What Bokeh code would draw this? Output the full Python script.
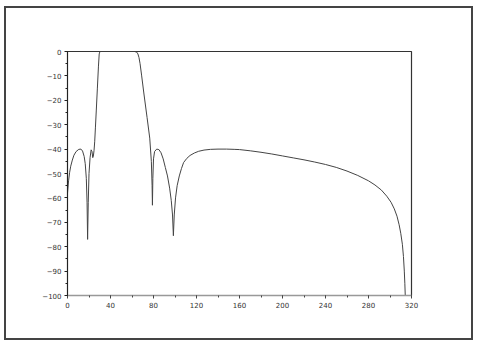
from bokeh.plotting import figure
from bokeh.models import Range1d, FixedTicker
from bokeh.embed import file_html
from bokeh.resources import INLINE

freq = [0, 1, 2, 3, 4.5, 6, 8, 10.5, 12.5, 14, 15.5, 16.5, 17.5, 18.2, 18.7, 19.3, 20, 21, 22,
        22.8, 23.5, 24, 24.7, 25.3, 26, 26.8, 27.8, 28.8, 29.5, 30.2,
        40, 50, 62.5, 64.5, 65.5, 66.5, 67.5, 69, 71, 74, 76.5, 78, 78.7, 79, 79.4, 80, 81, 83, 85, 87, 89, 91,
        93, 95, 96.5, 97.7, 98.5, 99.3, 100.5, 102, 104, 106, 108, 111, 114, 118, 122, 127, 133, 140,
        148, 155, 160, 170, 180, 190, 200, 210, 220, 230, 240, 250, 260, 270, 280, 286, 292, 297,
        301, 304, 306.5, 308.5, 310, 311.5, 312.5, 313.3, 313.8, 314.2]
mag_db = [-58, -53, -49.5, -47, -44.5, -42.5, -41, -40.1, -40, -40.8, -43, -46, -52, -62, -77, -62, -50, -43.5, -40.3,
          -41, -43.5, -43, -40.5, -37, -31, -24, -15, -6, -1, 0,
          0, 0, 0, -0.3, -1, -2.5, -5, -10, -17, -27, -35.5, -45, -55, -63, -52, -44, -41, -40, -40.2, -41.5, -44, -47.5,
          -51, -56, -61, -67, -75.5, -67, -60, -55, -51, -48, -45.5, -43.8, -42.6, -41.6, -40.9, -40.4, -40.1, -40,
          -40, -40.1, -40.2, -40.7, -41.3, -42, -42.8, -43.6, -44.4, -45.3, -46.3, -47.5, -49, -50.8, -53, -54.7, -56.8, -59.3,
          -61.8, -64.5, -67.5, -71, -74.5, -79, -84, -90, -95, -100]

x_ticks = [0, 40, 80, 120, 160, 200, 240, 280, 320]
y_ticks = [0, -10, -20, -30, -40, -50, -60, -70, -80, -90, -100]

p = figure(width=469, height=334, output_backend="svg", toolbar_location=None,
           x_range=Range1d(0, 320), y_range=Range1d(-100, 0),
           min_border_left=61, min_border_right=64, min_border_top=43, min_border_bottom=47)
p.margin = (6, 0, 0, 4)
p.styles = {"border": "2px solid #444", "box-sizing": "border-box"}

p.line(freq, mag_db, line_color="#444444", line_width=1)

p.grid.visible = False
p.outline_line_color = "#333333"
p.outline_line_width = 1.2
p.background_fill_color = "white"
p.border_fill_color = "white"

p.xaxis.ticker = FixedTicker(ticks=x_ticks, minor_ticks=list(range(0, 321, 20)))
p.yaxis.ticker = FixedTicker(ticks=y_ticks, minor_ticks=list(range(-100, 1, 5)))
for ax in (p.xaxis[0], p.yaxis[0]):
    ax.major_label_text_font = "DejaVu Sans"
    ax.major_label_text_font_size = "7px"
    ax.major_label_text_color = "#333333"
    ax.major_tick_in = 0
    ax.major_tick_out = 3
    ax.minor_tick_in = 0
    ax.minor_tick_out = 2
    ax.major_label_standoff = 3
p.yaxis.axis_line_color = "#222222"
p.yaxis.major_tick_line_color = "#222222"
p.yaxis.minor_tick_line_color = "#222222"
p.xaxis.axis_line_color = "#999999"
p.xaxis.axis_line_width = 1.5
p.xaxis.major_tick_line_color = "#444444"
p.xaxis.minor_tick_line_color = "#444444"

open("out.html", "w").write(file_html(p, INLINE))
